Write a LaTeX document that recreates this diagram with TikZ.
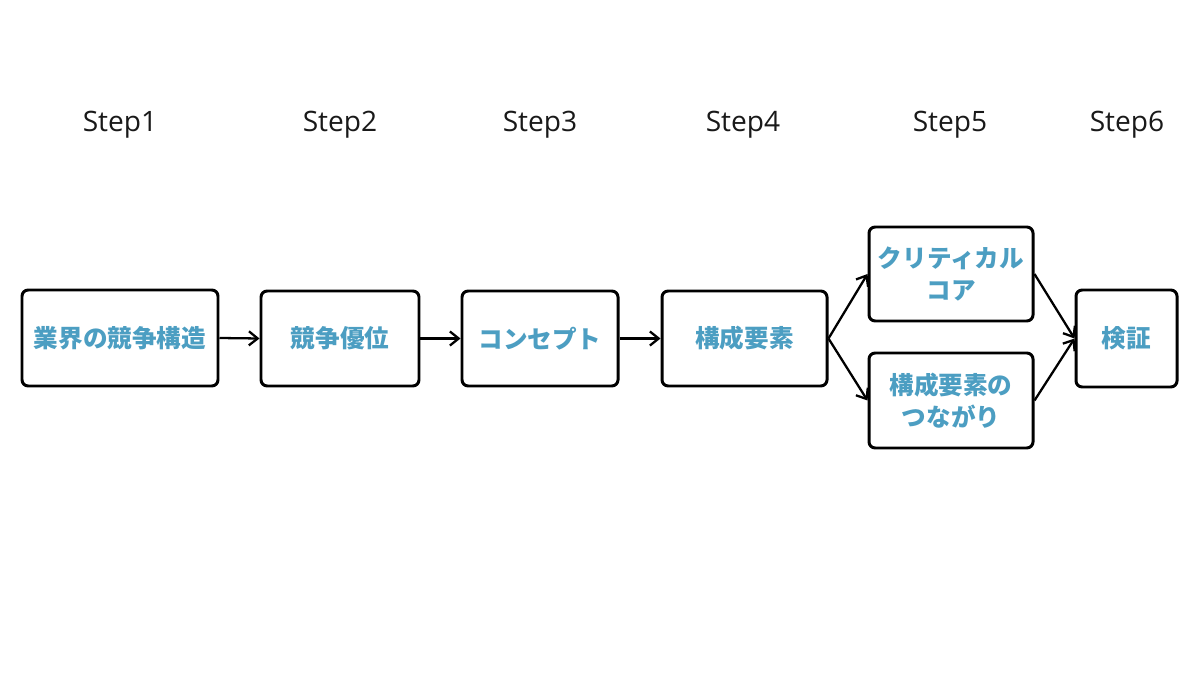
\documentclass[tikz,border=0pt]{standalone}
\usepackage{fontspec}
\setmainfont{Open Sans}
\newfontfamily\cjk{Noto Sans CJK JP}
\usetikzlibrary{arrows.meta}
\definecolor{txtblue}{HTML}{4C9EC2}
\tikzset{
  box/.style={draw=black, line width=1.7pt, rounded corners=3.5pt, fill=white, inner sep=0pt},
  boxtext/.style={font=\cjk\bfseries\fontsize{14}{18.5}\selectfont, text=txtblue, align=center},
  steplabel/.style={font=\fontsize{16}{19}\selectfont, text=black!90, anchor=center},
  conn/.style={line width=1.3pt, -{Straight Barb[length=5pt,width=8pt,line width=1.3pt]}},
}
\begin{document}
\begin{tikzpicture}[x=0.02cm, y=-0.02cm]
\useasboundingbox (0,0) rectangle (1200,675);
% step labels
\node[steplabel] (s1) at (120,125) {Step1};
\node[steplabel] (s2) at (340,125) {Step2};
\node[steplabel] (s3) at (540,125) {Step3};
\node[steplabel] (s4) at (743,125) {Step4};
\node[steplabel] (s5) at (950,125) {Step5};
\node[steplabel] (s6) at (1127,125) {Step6};
% boxes
\node[box, minimum width=196*0.02cm, minimum height=96*0.02cm] (n1) at (120,338) {};
\node[boxtext] (t1) at (n1.center) {業界の競争構造};
\node[box, minimum width=158*0.02cm, minimum height=95*0.02cm] (n2) at (340,338.5) {};
\node[boxtext] (t2) at (n2.center) {競争優位};
\node[box, minimum width=156*0.02cm, minimum height=95*0.02cm] (n3) at (540,338.5) {};
\node[boxtext] (t3) at (n3.center) {コンセプト};
\node[box, minimum width=165*0.02cm, minimum height=95*0.02cm] (n4) at (744.5,338.5) {};
\node[boxtext] (t4) at (n4.center) {構成要素};
\node[box, minimum width=164*0.02cm, minimum height=94*0.02cm] (n5a) at (951,274) {};
\node[boxtext] (t5a) at (n5a.center) {クリティカル\\コア};
\node[box, minimum width=164*0.02cm, minimum height=95*0.02cm] (n5b) at (951,400.5) {};
\node[boxtext] (t5b) at (n5b.center) {構成要素の\\つながり};
\node[box, minimum width=101*0.02cm, minimum height=97*0.02cm] (n6) at (1126.5,338.5) {};
\node[boxtext] (t6) at (n6.center) {検証};
% connectors
\draw[conn] (n1.east) -- (n2.west);
\draw[conn] (n2.east) -- (n3.west);
\draw[conn] (n3.east) -- (n4.west);
\draw[conn] (n4.east) -- (n5a.west);
\draw[conn] (n4.east) -- (n5b.west);
\draw[conn] (n5a.east) -- (n6.west);
\draw[conn] (n5b.east) -- (n6.west);
\end{tikzpicture}
\end{document}
